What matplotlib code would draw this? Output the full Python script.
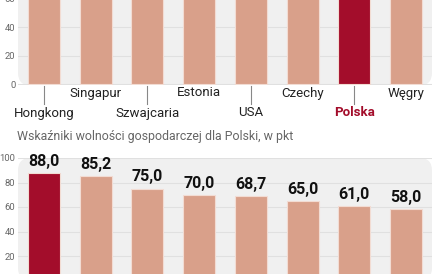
import matplotlib
matplotlib.use("Agg")
import matplotlib.pyplot as plt
from matplotlib.patches import FancyBboxPatch

# ---- data ----
countries = ["Hongkong", "Singapur", "Szwajcaria", "Estonia", "USA", "Czechy", "Polska", "Węgry"]
country_scores = [90.2, 89.4, 81.9, 77.7, 76.8, 74.8, 67.8, 65.0]  # tops not visible in source
indicators_pl = [88.0, 85.2, 75.0, 70.0, 68.7, 65.0, 61.0, 58.0]
indicator_labels = ["88,0", "85,2", "75,0", "70,0", "68,7", "65,0", "61,0", "58,0"]
top_ticks = [0, 20, 40, 60]
bottom_ticks = [20, 40, 60, 80, 100]
title_bottom = "Wskaźniki wolności gospodarczej dla Polski, w pkt"

SALMON = "#d9a08a"
DARK = "#a30d2b"
BG = "#f0f0f0"
GRID = "#e0e0e0"
TICKC = "#666666"

W, H = 439, 274
fig = plt.figure(figsize=(W / 100, H / 100), dpi=100)
fig.patch.set_facecolor("white")

def px_axes(left, right, top, bottom):
    return fig.add_axes([left / W, 1 - bottom / H, (right - left) / W, (bottom - top) / H])

def style(ax, ticks):
    ax.patch.set_visible(False)
    for s in ax.spines.values():
        s.set_visible(False)
    ax.set_xlim(-0.5, len(countries) - 0.5)
    ax.set_yticks(ticks)
    ax.set_yticklabels([str(t) for t in ticks])
    ax.tick_params(axis="y", length=0, pad=1.8, labelsize=6.8, labelcolor=TICKC)
    ax.tick_params(axis="x", length=0, labelbottom=False)
    ax.set_xticks([])
    for t in ticks:
        ax.axhline(t, color=GRID, lw=0.8, zorder=1)
    for lab in ax.get_yticklabels():
        lab.set_fontfamily("Roboto")

# ---- top chart ----
px_per_unit_top = 28.4 / 20
top_y0 = 84
ylim_top = (-1.0, 62.0)
ax1 = px_axes(18, 432, top_y0 - ylim_top[1] * px_per_unit_top, top_y0 - ylim_top[0] * px_per_unit_top)
ax1.set_ylim(*ylim_top)
style(ax1, top_ticks)
bg1 = FancyBboxPatch((0, 0), 1, 1.2, boxstyle="round,pad=0,rounding_size=0.03",
                     transform=ax1.transAxes, facecolor=BG, edgecolor="none", zorder=0,
                     mutation_aspect=414 / 88)
ax1.add_patch(bg1)
colors1 = [DARK if c == "Polska" else SALMON for c in countries]
ax1.bar(range(len(countries)), country_scores, width=0.62, bottom=0.3, color=colors1,
        edgecolor="#f2dcd3", linewidth=0.8, zorder=3)
for i, c in enumerate(countries):
    upper = i % 2 == 1
    ypx = 93 if upper else 113
    col = DARK if c == "Polska" else "#222222"
    fw = "bold" if c == "Polska" else "normal"
    ax1.text(i, -(ypx - top_y0) / px_per_unit_top, c, ha="center", va="center",
             fontsize=9.5, family="Roboto", color=col, fontweight=fw, clip_on=False, zorder=5)
    if not upper:
        ax1.plot([i, i], [-(86 - top_y0) / px_per_unit_top, -(104 - top_y0) / px_per_unit_top],
                 color="#888888", lw=0.8, clip_on=False, zorder=4)

# ---- title ----
fig.text(17 / W, 1 - 136.5 / H, title_bottom, ha="left", va="center", fontsize=8.9,
         family="Roboto", color="#666666")

# ---- bottom chart ----
px_per_unit_bot = 24.5 / 20
bot_y100 = 158
ylim_bot = (0, 100)
ax2 = px_axes(18, 432, bot_y100, bot_y100 + 100 * px_per_unit_bot)
ax2.set_ylim(*ylim_bot)
style(ax2, bottom_ticks)
bg2 = FancyBboxPatch((0, 0), 1, 1.0, boxstyle="round,pad=0,rounding_size=0.03",
                     transform=ax2.transAxes, facecolor=BG, edgecolor="none", zorder=0,
                     mutation_aspect=414 / 122)
ax2.add_patch(bg2)
colors2 = [DARK] + [SALMON] * (len(indicators_pl) - 1)
ax2.bar(range(len(indicators_pl)), indicators_pl, width=0.62, color=colors2,
        edgecolor="#f2dcd3", linewidth=0.8, zorder=3)
for i, (v, lab) in enumerate(zip(indicators_pl, indicator_labels)):
    ax2.annotate(lab, xy=(i, v), xytext=(0, 3), textcoords="offset points",
                 ha="center", va="bottom", fontsize=11.5, fontweight="bold",
                 family="Roboto", color="#111111", zorder=5,
                 annotation_clip=False)

fig.savefig("out.png", dpi=100)
